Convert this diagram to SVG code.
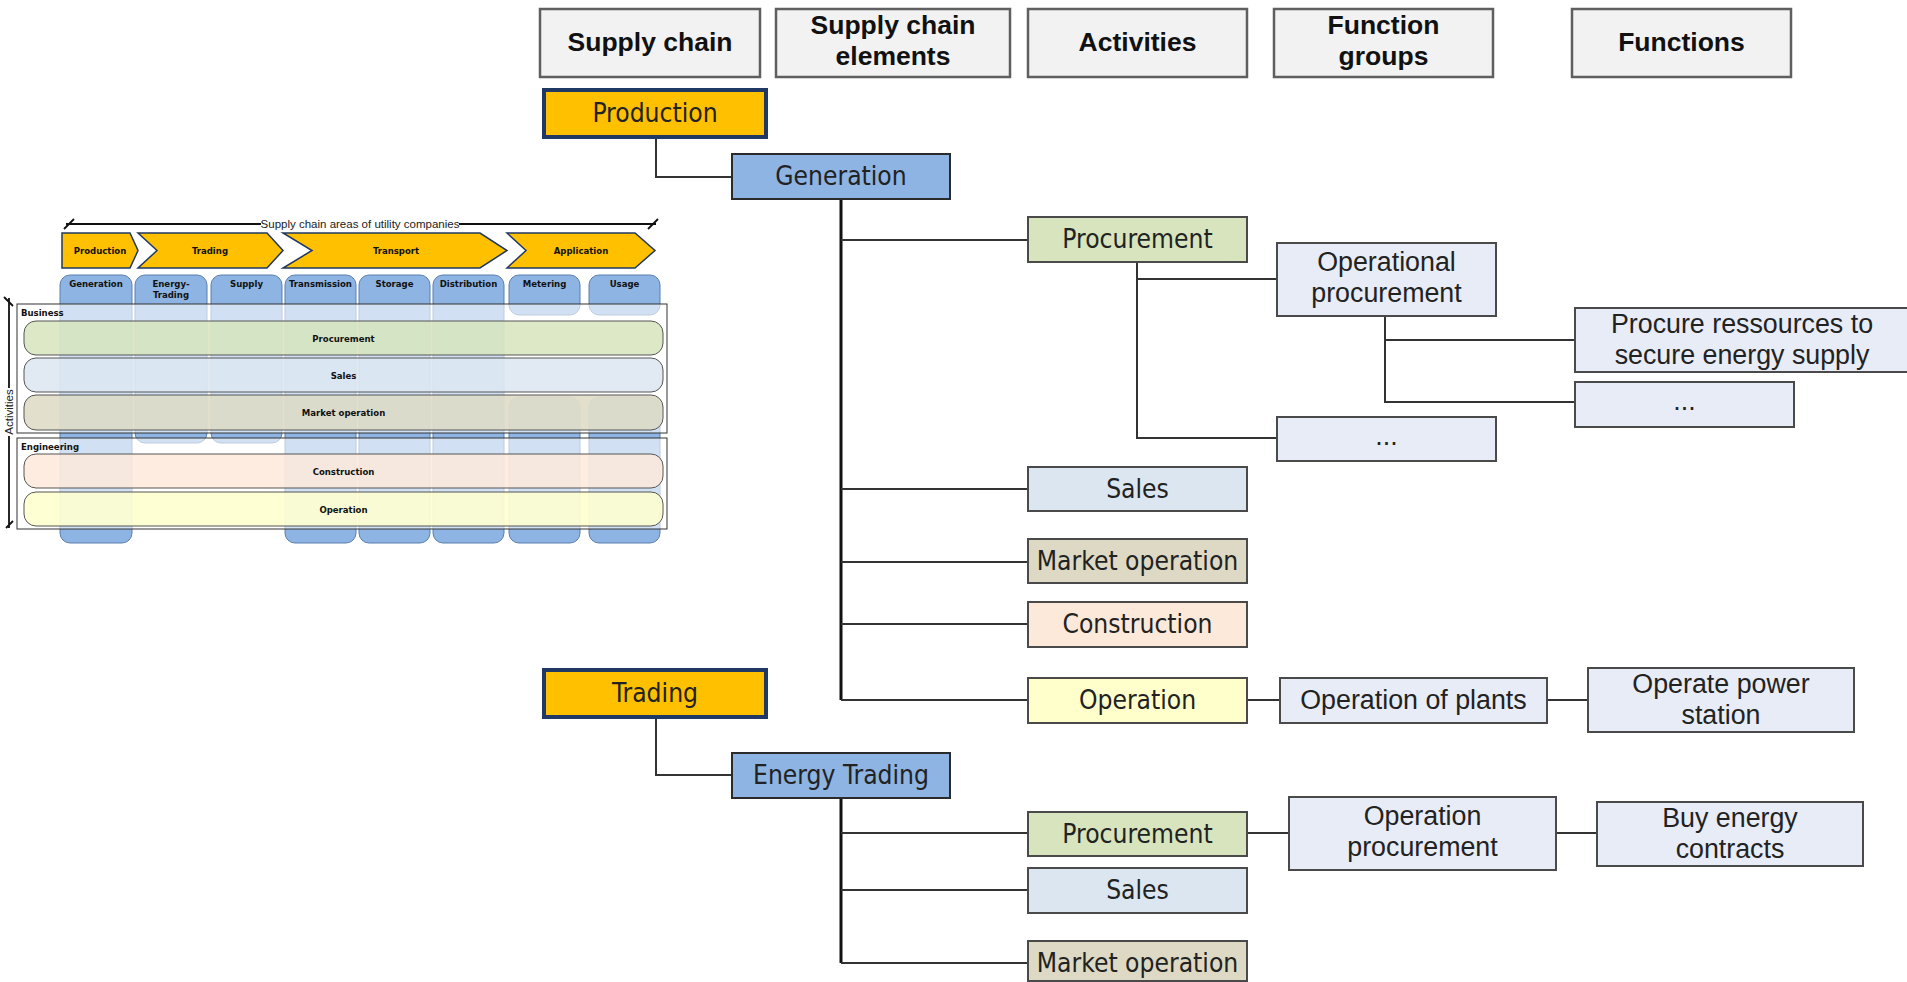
<svg xmlns="http://www.w3.org/2000/svg" width="1907" height="982" viewBox="0 0 1907 982">
<style>
.hdr{fill:#F2F2F2;stroke:#5f5f5f;stroke-width:2.5}
.ht{font-family:"Liberation Sans",Arial,sans-serif;font-weight:bold;font-size:26.5px;fill:#111;text-anchor:middle}
.sc{fill:#FFC000;stroke:#1F3864;stroke-width:4}
.el{fill:#8DB4E2;stroke:#2b2b2b;stroke-width:2}
.nt{font-family:"DejaVu Sans Condensed","DejaVu Sans",sans-serif;font-stretch:condensed;font-size:26.2px;fill:#222;text-anchor:middle}
.ft{font-family:"Liberation Sans",Arial,sans-serif;font-size:26.8px;fill:#222;text-anchor:middle}
.act{stroke:#4a4a4a;stroke-width:2}
.pro{fill:#D7E4BD}.sal{fill:#DCE6F0}.mkt{fill:#DDD9C4}.con{fill:#FDE9D9}.ope{fill:#FFFFCC}
.fn{fill:#E8ECF6;stroke:#4a4a4a;stroke-width:2}
.ln{fill:none;stroke:#333;stroke-width:2}
.tk{fill:none;stroke:#111;stroke-width:3}
.chev{fill:#FFC000;stroke:#1F3864;stroke-width:1.5}
.mt{font-family:"DejaVu Sans Condensed","DejaVu Sans",sans-serif;font-stretch:condensed;font-weight:bold;font-size:9.5px;fill:#111;text-anchor:middle}
.ms{font-family:"DejaVu Sans Condensed","DejaVu Sans",sans-serif;font-stretch:condensed;font-weight:bold;font-size:9.5px;fill:#111;text-anchor:start}
.col{fill:#8DB4E2;stroke:#5b7fae;stroke-width:1}
.frm{fill:#fff;fill-opacity:0.6;stroke:#333;stroke-width:1}
.band{stroke:#555;stroke-width:1;fill-opacity:0.85}
.ax{fill:none;stroke:#111;stroke-width:1.8}
.axt{font-family:"Liberation Sans",Arial,sans-serif;font-size:11.5px;fill:#222;text-anchor:middle}
</style>

<!-- Left overview picture -->
<g id="overview">
  <g id="axis-top">
    <path class="ax" d="M66,224 H261 M459,224 H656 M64,229 L74,219 M648,229 L658,219"/>
    <text class="axt" x="360" y="228">Supply chain areas of utility companies</text>
  </g>
  <g id="chevrons">
    <path class="chev" d="M62,233 H130 L138,250.5 L130,268 H62 Z"/>
    <path class="chev" d="M138,233 H267 L283,250.5 L267,268 H138 L157,250.5 Z"/>
    <path class="chev" d="M283,233 H480 L507,250.5 L480,268 H283 L312,250.5 Z"/>
    <path class="chev" d="M507,233 H635 L655,250.5 L635,268 H507 L526,250.5 Z"/>
    <text class="mt" x="100" y="254">Production</text>
    <text class="mt" x="210" y="254">Trading</text>
    <text class="mt" x="396" y="254">Transport</text>
    <text class="mt" x="581" y="254">Application</text>
  </g>
  <g id="columns">
    <rect class="col" x="60" y="275" width="72" height="268" rx="10"/>
    <rect class="col" x="135" y="275" width="72" height="168" rx="10"/>
    <rect class="col" x="211" y="275" width="71" height="168" rx="10"/>
    <rect class="col" x="285" y="275" width="71" height="268" rx="10"/>
    <rect class="col" x="359" y="275" width="71" height="268" rx="10"/>
    <rect class="col" x="433" y="275" width="71" height="268" rx="10"/>
    <rect class="col" x="509" y="275" width="71" height="40" rx="10"/>
    <rect class="col" x="589" y="275" width="71" height="40" rx="10"/>
    <rect class="col" x="509" y="397" width="71" height="146" rx="10"/>
    <rect class="col" x="589" y="397" width="71" height="146" rx="10"/>
  </g>
  <g id="frames">
    <rect class="frm" x="17" y="304" width="650" height="129"/>
    <rect class="frm" x="17" y="438" width="650" height="91"/>
  </g>
  <g id="bands">
    <rect class="band pro" x="24" y="321" width="639" height="34" rx="12"/>
    <rect class="band sal" x="24" y="358" width="639" height="34" rx="12"/>
    <rect class="band mkt" x="24" y="395" width="639" height="35" rx="12"/>
    <rect class="band con" x="24" y="454" width="639" height="34" rx="12"/>
    <rect class="band ope" x="24" y="492" width="639" height="34" rx="12"/>
    <text class="mt" x="343.5" y="341.5">Procurement</text>
    <text class="mt" x="343.5" y="378.5">Sales</text>
    <text class="mt" x="343.5" y="416">Market operation</text>
    <text class="mt" x="343.5" y="474.5">Construction</text>
    <text class="mt" x="343.5" y="512.5">Operation</text>
  </g>
  <g id="col-labels">
    <text class="mt" x="96" y="287">Generation</text>
    <text class="mt" x="171" y="287">Energy-</text>
    <text class="mt" x="171" y="298">Trading</text>
    <text class="mt" x="246.5" y="287">Supply</text>
    <text class="mt" x="320.5" y="287">Transmission</text>
    <text class="mt" x="394.5" y="287">Storage</text>
    <text class="mt" x="468.5" y="287">Distribution</text>
    <text class="mt" x="544.5" y="287">Metering</text>
    <text class="mt" x="624.5" y="287">Usage</text>
    <text class="ms" x="21" y="316">Business</text>
    <text class="ms" x="21" y="450">Engineering</text>
  </g>
  <g id="axis-left">
    <path class="ax" d="M9,298 V388 M9,436 V528 M4,297 L13,306 M6,528 L13,521"/>
    <text class="axt" transform="translate(13,412) rotate(-90)">Activities</text>
  </g>
</g>

<!-- Headers -->
<g id="hdr-supply-chain"><rect class="hdr" x="540" y="9" width="220" height="68"/><text class="ht" x="650" y="51">Supply chain</text></g>
<g id="hdr-elements"><rect class="hdr" x="776" y="9" width="234" height="68"/><text class="ht" x="893" y="34">Supply chain</text><text class="ht" x="893" y="65">elements</text></g>
<g id="hdr-activities"><rect class="hdr" x="1028" y="9" width="219" height="68"/><text class="ht" x="1137.5" y="51">Activities</text></g>
<g id="hdr-function-groups"><rect class="hdr" x="1274" y="9" width="219" height="68"/><text class="ht" x="1383.5" y="34">Function</text><text class="ht" x="1383.5" y="65">groups</text></g>
<g id="hdr-functions"><rect class="hdr" x="1572" y="9" width="219" height="68"/><text class="ht" x="1681.5" y="51">Functions</text></g>

<!-- Connectors -->
<g id="connectors">
  <path class="ln" d="M656,137 V177 H732"/>
  <path class="tk" d="M841,199 V700"/>
  <path class="ln" d="M841,240 H1028 M841,489 H1028 M841,562 H1028 M841,624 H1028 M841,700 H1028"/>
  <path class="ln" d="M1137,262 V438 H1277 M1137,279 H1277"/>
  <path class="ln" d="M1385,316 V402 H1575 M1385,340 H1575"/>
  <path class="ln" d="M1247,700 H1280 M1547,700 H1588"/>
  <path class="ln" d="M656,717 V775 H732"/>
  <path class="tk" d="M841,798 V963"/>
  <path class="ln" d="M841,833 H1028 M841,890 H1028 M841,963 H1028"/>
  <path class="ln" d="M1247,833 H1289 M1556,833 H1597"/>
</g>

<!-- Production tree -->
<g id="production"><rect class="sc" x="544" y="90" width="222" height="47"/><text class="nt" x="655" y="122">Production</text></g>
<g id="generation"><rect class="el" x="732" y="154" width="218" height="45"/><text class="nt" x="841" y="185">Generation</text></g>
<g id="gen-procurement"><rect class="act pro" x="1028" y="217" width="219" height="45"/><text class="nt" x="1137.5" y="248">Procurement</text></g>
<g id="operational-procurement"><rect class="fn" x="1277" y="243" width="219" height="73"/><text class="ft" x="1386.5" y="271">Operational</text><text class="ft" x="1386.5" y="302">procurement</text></g>
<g id="procure-ressources"><rect class="fn" x="1575" y="308" width="340" height="64"/><text class="ft" x="1742" y="333">Procure ressources to</text><text class="ft" x="1742" y="364">secure energy supply</text></g>
<g id="functions-more"><rect class="fn" x="1575" y="382" width="219" height="45"/><text class="ft" x="1684.5" y="410">...</text></g>
<g id="groups-more"><rect class="fn" x="1277" y="417" width="219" height="44"/><text class="ft" x="1386.5" y="445">...</text></g>
<g id="gen-sales"><rect class="act sal" x="1028" y="467" width="219" height="44"/><text class="nt" x="1137.5" y="498">Sales</text></g>
<g id="gen-market-operation"><rect class="act mkt" x="1028" y="539" width="219" height="44"/><text class="nt" x="1137.5" y="570">Market operation</text></g>
<g id="gen-construction"><rect class="act con" x="1028" y="602" width="219" height="45"/><text class="nt" x="1137.5" y="633">Construction</text></g>
<g id="gen-operation"><rect class="act ope" x="1028" y="678" width="219" height="45"/><text class="nt" x="1137.5" y="709">Operation</text></g>
<g id="operation-of-plants"><rect class="fn" x="1280" y="678" width="267" height="45"/><text class="ft" x="1413.5" y="709">Operation of plants</text></g>
<g id="operate-power-station"><rect class="fn" x="1588" y="668" width="266" height="64"/><text class="ft" x="1721" y="693">Operate power</text><text class="ft" x="1721" y="724">station</text></g>

<!-- Trading tree -->
<g id="trading"><rect class="sc" x="544" y="670" width="222" height="47"/><text class="nt" x="655" y="702">Trading</text></g>
<g id="energy-trading"><rect class="el" x="732" y="753" width="218" height="45"/><text class="nt" x="841" y="784">Energy Trading</text></g>
<g id="tr-procurement"><rect class="act pro" x="1028" y="812" width="219" height="44"/><text class="nt" x="1137.5" y="843">Procurement</text></g>
<g id="operation-procurement"><rect class="fn" x="1289" y="797" width="267" height="73"/><text class="ft" x="1422.5" y="825">Operation</text><text class="ft" x="1422.5" y="856">procurement</text></g>
<g id="buy-energy-contracts"><rect class="fn" x="1597" y="802" width="266" height="64"/><text class="ft" x="1730" y="827">Buy energy</text><text class="ft" x="1730" y="858">contracts</text></g>
<g id="tr-sales"><rect class="act sal" x="1028" y="868" width="219" height="45"/><text class="nt" x="1137.5" y="899">Sales</text></g>
<g id="tr-market-operation"><rect class="act mkt" x="1028" y="941" width="219" height="40"/><text class="nt" x="1137.5" y="972">Market operation</text></g>
</svg>
